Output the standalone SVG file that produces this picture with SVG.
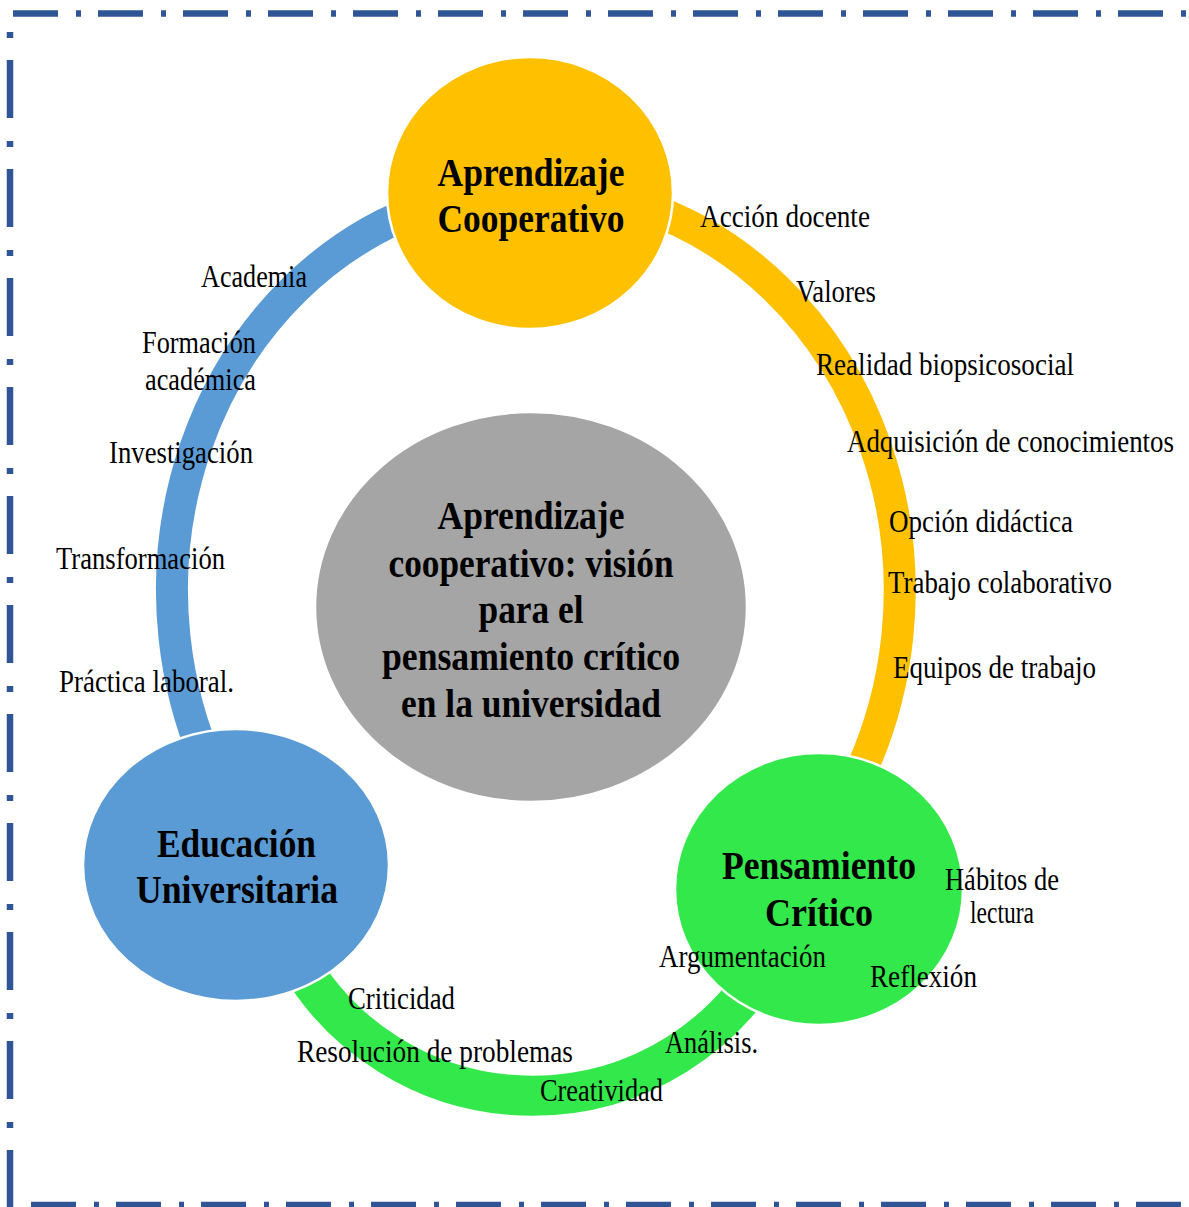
<svg xmlns="http://www.w3.org/2000/svg" width="1189" height="1207" viewBox="0 0 1189 1207">
<style>
.bd{fill:none;stroke:#2F5597;stroke-width:6.5}
.band{fill:none}
.node{stroke:#FFFFFF;stroke-width:2.5}
.t{font-family:"Liberation Serif","Times New Roman",serif;font-weight:bold;font-size:40px;fill:#000;text-anchor:middle}
.l{font-family:"Liberation Serif","Times New Roman",serif;font-size:31px;fill:#000}
</style>
<rect width="1189" height="1207" fill="#FFFFFF"/>
<g id="border">
<line class="bd" x1="13" y1="13.5" x2="1189" y2="13.5" stroke-dasharray="45 18 5 17"/>
<line class="bd" x1="10" y1="32" x2="10" y2="1207" stroke-dasharray="6 22 58 23"/>
<line class="bd" x1="31" y1="1205" x2="1189" y2="1205" stroke-width="7" stroke-dasharray="45 18 5 17"/>
</g>
<g id="connectors">
<path class="band" d="M430,205.4 A364,402 0 0 0 225.6,800" stroke="#5B9BD5" stroke-width="32"/>
<path class="band" d="M640,205.4 A364,402 0 0 1 846.4,800" stroke="#FFC000" stroke-width="32"/>
<path class="band" d="M297.9,961.2 A272,272 0 0 0 767.3,961.2" stroke="#33E84B" stroke-width="40"/>
</g>
<g id="node-center">
<ellipse cx="531" cy="607" rx="216" ry="195" fill="#A5A5A5" class="node"/>
<text class="t" x="531" y="529" textLength="187" lengthAdjust="spacingAndGlyphs">Aprendizaje</text>
<text class="t" x="531" y="577" textLength="285" lengthAdjust="spacingAndGlyphs">cooperativo: visión</text>
<text class="t" x="531" y="623" textLength="105" lengthAdjust="spacingAndGlyphs">para el</text>
<text class="t" x="531" y="670" textLength="298" lengthAdjust="spacingAndGlyphs">pensamiento crítico</text>
<text class="t" x="531" y="717" textLength="260" lengthAdjust="spacingAndGlyphs">en la universidad</text>
</g>
<g id="node-aprendizaje">
<ellipse cx="530" cy="193" rx="143" ry="136" fill="#FFC000" class="node"/>
<text class="t" x="531" y="186" textLength="187" lengthAdjust="spacingAndGlyphs">Aprendizaje</text>
<text class="t" x="531" y="232" textLength="187" lengthAdjust="spacingAndGlyphs">Cooperativo</text>
</g>
<g id="node-educacion">
<ellipse cx="236" cy="865" rx="153" ry="136" fill="#5B9BD5" class="node"/>
<text class="t" x="236.5" y="857" textLength="159" lengthAdjust="spacingAndGlyphs">Educación</text>
<text class="t" x="237" y="903" textLength="202" lengthAdjust="spacingAndGlyphs">Universitaria</text>
</g>
<g id="node-pensamiento">
<ellipse cx="819" cy="889" rx="144" ry="136" fill="#33E84B" class="node"/>
<text class="t" x="819" y="879" textLength="194" lengthAdjust="spacingAndGlyphs">Pensamiento</text>
<text class="t" x="819" y="926" textLength="108" lengthAdjust="spacingAndGlyphs">Crítico</text>
</g>
<g id="labels">
<text class="l" x="700" y="227" textLength="170" lengthAdjust="spacingAndGlyphs">Acción docente</text>
<text class="l" x="796" y="302" textLength="80" lengthAdjust="spacingAndGlyphs">Valores</text>
<text class="l" x="816" y="375" textLength="258" lengthAdjust="spacingAndGlyphs">Realidad biopsicosocial</text>
<text class="l" x="847" y="452" textLength="327" lengthAdjust="spacingAndGlyphs">Adquisición de conocimientos</text>
<text class="l" x="889" y="532" textLength="184" lengthAdjust="spacingAndGlyphs">Opción didáctica</text>
<text class="l" x="888" y="593" textLength="224" lengthAdjust="spacingAndGlyphs">Trabajo colaborativo</text>
<text class="l" x="893" y="678" textLength="203" lengthAdjust="spacingAndGlyphs">Equipos de trabajo</text>
<text class="l" x="945" y="890" textLength="114" lengthAdjust="spacingAndGlyphs" font-size="29">Hábitos de</text>
<text class="l" x="970" y="923" textLength="64" lengthAdjust="spacingAndGlyphs" font-size="27">lectura</text>
<text class="l" x="870" y="987" textLength="107" lengthAdjust="spacingAndGlyphs">Reflexión</text>
<text class="l" x="659" y="967" textLength="167" lengthAdjust="spacingAndGlyphs">Argumentación</text>
<text class="l" x="665" y="1053" textLength="93" lengthAdjust="spacingAndGlyphs">Análisis.</text>
<text class="l" x="540" y="1101" textLength="123" lengthAdjust="spacingAndGlyphs">Creatividad</text>
<text class="l" x="297" y="1062" textLength="276" lengthAdjust="spacingAndGlyphs">Resolución de problemas</text>
<text class="l" x="348" y="1009" textLength="107" lengthAdjust="spacingAndGlyphs">Criticidad</text>
<text class="l" x="201" y="287" textLength="106" lengthAdjust="spacingAndGlyphs">Academia</text>
<text class="l" x="142" y="353" textLength="114" lengthAdjust="spacingAndGlyphs">Formación</text>
<text class="l" x="145" y="390" textLength="111" lengthAdjust="spacingAndGlyphs">académica</text>
<text class="l" x="109" y="463" textLength="144" lengthAdjust="spacingAndGlyphs">Investigación</text>
<text class="l" x="56" y="569" textLength="169" lengthAdjust="spacingAndGlyphs">Transformación</text>
<text class="l" x="59" y="692" textLength="175" lengthAdjust="spacingAndGlyphs">Práctica laboral.</text>
</g>
</svg>
